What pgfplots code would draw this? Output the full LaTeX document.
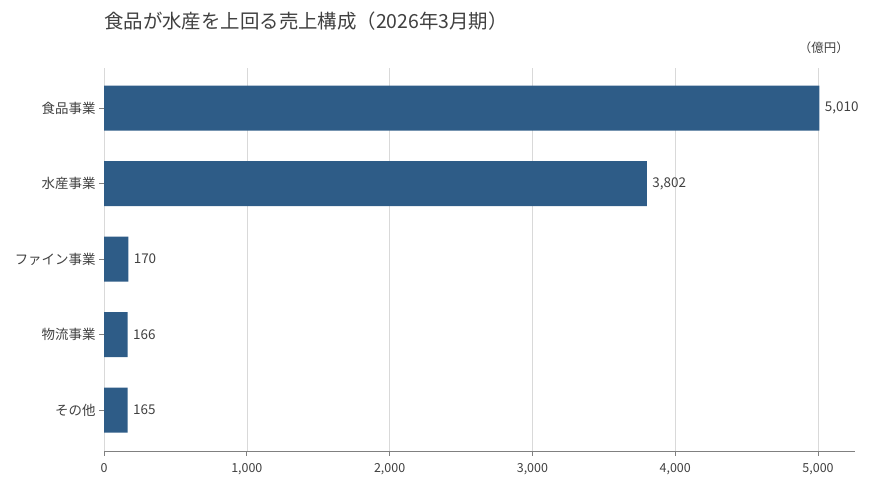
\documentclass[border=0pt]{standalone}
\usepackage{fontspec}
\setmainfont{Noto Sans CJK JP}
\usepackage{pgfplots}
\pgfplotsset{compat=1.18}
\definecolor{barblue}{HTML}{2E5C87}
\definecolor{txt}{HTML}{404040}
\definecolor{gridc}{HTML}{D9D9D9}
\definecolor{axc}{HTML}{808080}

\begin{document}
\begin{tikzpicture}[x=1bp,y=1bp]
\useasboundingbox (0,0) rectangle (870,486);
\node[anchor=base west, font=\fontsize{19.5}{22}\selectfont, text=txt, inner sep=0pt]
  at (104,457) {食品が水産を上回る売上構成（2026年3月期）};
\node[anchor=base east, font=\fontsize{12.5}{14}\selectfont, text=txt, inner sep=0pt]
  at (849,433) {（億円）};
\begin{axis}[
    at={(104bp,35bp)}, anchor=south west,
    scale only axis,
    width=751bp, height=383bp,
    xbar, bar width=45bp,
    xmin=0, xmax=5259,
    ymin=-0.54, ymax=4.53,
    axis lines*=left,
    y axis line style={draw=none},
    x axis line style={draw=axc, line width=0.8pt},
    xtick={0,1000,2000,3000,4000,5000},
    ytick={0,1,2,3,4},
    yticklabels={その他,物流事業,ファイン事業,水産事業,食品事業},
    xmajorgrids,
    grid style={gridc, line width=0.6pt},
    tick align=outside,
    major tick length=5bp,
    tick style={axc, line width=0.8pt},
    /pgf/number format/assume math mode=true,
    /pgf/number format/1000 sep={,},
    xticklabel style={font=\fontsize{12.5}{14}\selectfont, text=txt, yshift=-4bp},
    yticklabel style={font=\fontsize{13.5}{15}\selectfont, text=txt},
    nodes near coords,
    nodes near coords align={horizontal},
    every node near coord/.append style={font=\fontsize{13.5}{15}\selectfont, text=txt,
      /pgf/number format/1000 sep={,}, /pgf/number format/assume math mode=true, xshift=2bp},
]
\addplot[fill=barblue, draw=none] coordinates {
    (5010,4) (3802,3) (170,2) (166,1) (165,0)
};
\end{axis}
\end{tikzpicture}
\end{document}
